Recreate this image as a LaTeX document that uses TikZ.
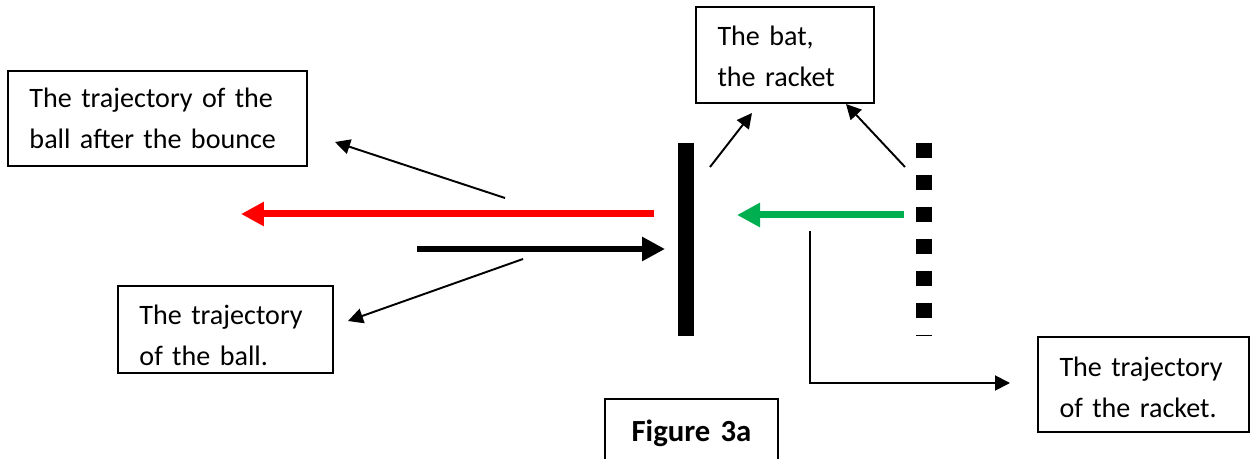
\documentclass[tikz,border=0pt]{standalone}
\usepackage{fontspec}
\setmainfont{Carlito}
\usepackage{xcolor}
\usetikzlibrary{arrows.meta}
\definecolor{racketgreen}{HTML}{00B050}

\begin{document}
\begin{tikzpicture}[x=0.02cm, y=-0.02cm, >={Triangle[length=0.3cm, width=0.3cm]},
    every node/.style={draw=black, line width=0.85pt, anchor=north west, outer sep=0pt,
        inner ysep=0pt, inner xsep=0.43cm, align=left,
        font=\fontsize{16pt}{23.3pt}\selectfont},
    pointer/.style={->, line width=1.1pt},
    bigarrow/.style={-{Triangle[length=0.46cm, width=0.46cm]}, line width=0.14cm}]
    \useasboundingbox (0,0) rectangle (1251,459);

    % text boxes
    \node (bounce) [text width=5.12cm, text height=0.74cm, text depth=1.16cm] at (8,71) {The trajectory of the\\ball after the bounce};
    \node (ball) [text width=3.44cm, text height=0.78cm, text depth=0.96cm] at (118,286) {The trajectory\\of the ball.};
    \node (batbox) [text width=2.70cm, text height=0.78cm, text depth=1.14cm] at (696,7) {The bat,\\the racket};
    \node (racketbox) [text width=3.36cm, text height=0.80cm, text depth=1.10cm] at (1038,337) {The trajectory\\of the racket.};
    \node (fig) [text width=2.60cm, text height=0.86cm, text depth=0.66cm, align=center,
        font=\bfseries\fontsize{17.5pt}{21pt}\selectfont] at (605,399) {Figure 3a};

    % the bat and the moving racket
    \node (bat) [fill=black, draw=none, inner sep=0pt, minimum width=0.32cm, minimum height=3.86cm] at (678,143) {};
    \coordinate (rtop) at (924,143);
    \coordinate (rbot) at (924,336);
    \draw[line width=0.32cm, dash pattern=on 0.3cm off 0.34cm] (rtop) -- (rbot);

    % ball and racket motion
    \coordinate (redstart) at (654,214);
    \coordinate (redend) at (241,214);
    \coordinate (inend) at (417,249);
    \coordinate (intip) at (665,249);
    \coordinate (greenstart) at (904,215);
    \coordinate (greenend) at (737,215);
    \draw[bigarrow, red] (redstart) -- (redend);
    \draw[bigarrow, black] (inend) -- (intip);
    \draw[bigarrow, racketgreen] (greenstart) -- (greenend);

    % pointers to the labels
    \coordinate (p1) at (505,198);
    \coordinate (t1) at (335,142);
    \coordinate (p2) at (523,259);
    \coordinate (t2) at (348,321);
    \coordinate (p3) at (710,167);
    \coordinate (t3) at (752,113);
    \coordinate (p4) at (905,167);
    \coordinate (t4) at (846,104);
    \coordinate (p5) at (810,231);
    \coordinate (t5) at (1010,383);
    \draw[pointer] (p1) -- (t1);
    \draw[pointer] (p2) -- (t2);
    \draw[pointer] (p3) -- (t3);
    \draw[pointer] (p4) -- (t4);
    \draw[pointer] (p5) |- (t5);
\end{tikzpicture}
\end{document}
